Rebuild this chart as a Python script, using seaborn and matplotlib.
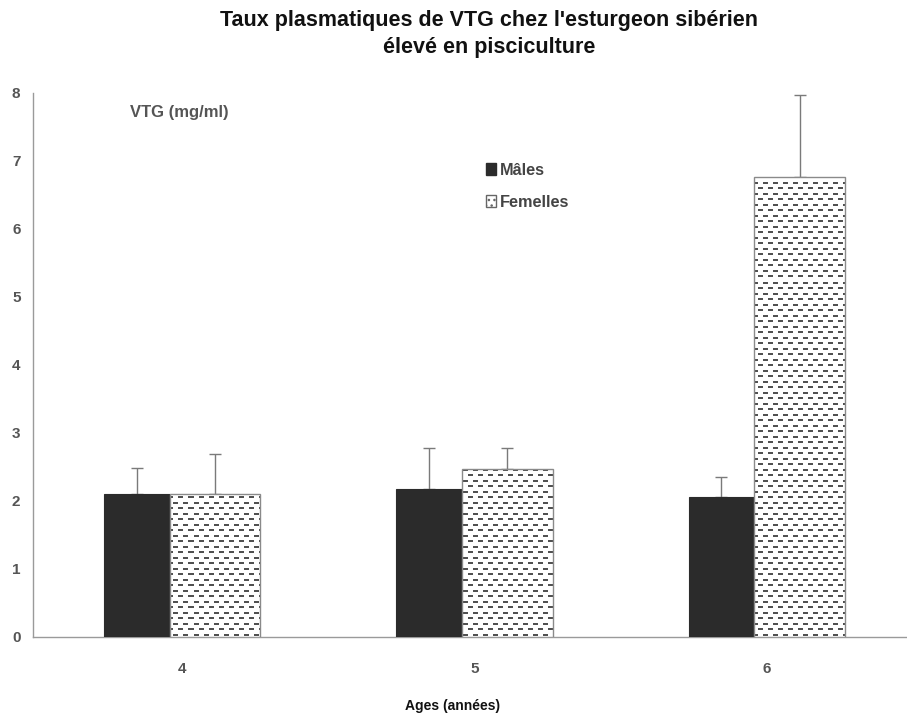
import numpy as np
import pandas as pd
import matplotlib
matplotlib.use("Agg")
import matplotlib.pyplot as plt
from matplotlib.patches import Patch
import seaborn as sns

# Data: plasma VTG (mg/ml) by age and sex, mean and upper error
ages = ["4", "5", "6"]
sexes = ["Mâles", "Femelles"]
males = [2.10, 2.18, 2.06]
males_err = [0.39, 0.60, 0.29]
femelles = [2.10, 2.47, 6.77]
femelles_err = [0.59, 0.31, 1.20]
y_ticks = [0, 1, 2, 3, 4, 5, 6, 7, 8]

title = "Taux plasmatiques de VTG chez l'esturgeon sibérien\nélevé en pisciculture"
x_label = "Ages (années)"
y_label = "VTG (mg/ml)"

df = pd.DataFrame({
    "age": ages * 2,
    "sexe": [sexes[0]] * 3 + [sexes[1]] * 3,
    "vtg": males + femelles,
})

sns.set_theme(style="white")
plt.rcParams["font.family"] = ["Liberation Sans", "DejaVu Sans"]

W, H = 907, 719
fig = plt.figure(figsize=(W / 100, H / 100), dpi=100)
ax = fig.add_axes([33 / W, (H - 637) / H, (W - 33) / W, (637 - 93) / H])

dark = "#2b2b2b"
edge_grey = "#8a8a8a"
group_w = 0.535
male_share = 0.42

sns.barplot(data=df, x="age", y="vtg", hue="sexe", order=ages, hue_order=sexes,
            palette={sexes[0]: dark, sexes[1]: "white"}, width=group_w,
            errorbar=None, legend=False, saturation=1, ax=ax, zorder=3)

male_bars = list(ax.containers[0])
fem_bars = list(ax.containers[1])
for mb, fb in zip(male_bars, fem_bars):
    left = mb.get_x()
    mb.set_width(group_w * male_share)
    mb.set_edgecolor(dark)
    mb.set_linewidth(0.8)
    fb.set_x(left + group_w * male_share)
    fb.set_width(group_w * (1 - male_share))
    fb.set_facecolor("none")
    fb.set_edgecolor(edge_grey)
    fb.set_linewidth(1.0)
    fb.set_zorder(4)

# Upper error bars centred on each bar
for bars, vals, errs in ((male_bars, males, males_err), (fem_bars, femelles, femelles_err)):
    xs = [b.get_x() + b.get_width() / 2 for b in bars]
    ax.errorbar(xs, vals, yerr=[np.zeros(len(errs)), errs], fmt="none",
                ecolor="#7a7a7a", elinewidth=1.0, capsize=4.5, capthick=1.0, zorder=1)

ax.set_autoscale_on(False)
ax.set_xlim(-0.51, 2.48)
ax.set_ylim(0, 8)

# Staggered-dash texture for the female bars
fig.canvas.draw()
bb = ax.get_window_extent()
aw, ah = int(round(bb.width)), int(round(bb.height))
tile = np.ones((11, 10))
tile[2:4, 0:5] = 0.32
tile[7:9, 5:10] = 0.32
tex = np.tile(tile, (ah // 11 + 2, aw // 10 + 2))[:ah, :aw]
for fb in fem_bars:
    im = ax.imshow(tex, cmap="gray", vmin=0, vmax=1, extent=[0, 1, 0, 1],
                   transform=ax.transAxes, interpolation="nearest",
                   aspect="auto", zorder=3.5)
    im.set_clip_path(fb)
ax.set_xlim(-0.51, 2.48)
ax.set_ylim(0, 8)

# Axes styling
for s in ("top", "right"):
    ax.spines[s].set_visible(False)
for s in ("left", "bottom"):
    ax.spines[s].set_color("#9a9a9a")
    ax.spines[s].set_linewidth(1.0)

ax.set_yticks(y_ticks)
ax.set_yticklabels([str(t) for t in y_ticks])
ax.tick_params(axis="y", direction="inout", length=8, width=0.8, color="#9a9a9a",
               pad=5, labelsize=11, labelcolor="#555555")
ax.set_xticks(range(len(ages)))
ax.set_xticklabels(ages)
ax.tick_params(axis="x", length=0, pad=18, labelsize=11, labelcolor="#555555")
ax.set_xticks([0.5, 1.5], minor=True)
ax.tick_params(axis="x", which="minor", direction="inout", length=10, width=0.8,
               color="#9a9a9a")
for lab in ax.get_xticklabels() + ax.get_yticklabels():
    lab.set_fontweight("bold")
ax.set_xlabel("")
ax.set_ylabel("")

fig.text(489 / W, 1 - 34 / H, title, ha="center", va="center", fontsize=15.5,
         fontweight="bold", color="#111111", linespacing=1.38)
fig.text(453 / W, 1 - 706 / H, x_label, ha="center", va="center", fontsize=10,
         fontweight="bold", color="#111111")
fig.text(130 / W, 1 - 113 / H, y_label, ha="left", va="center", fontsize=12,
         fontweight="bold", color="#555555")

handles = [Patch(facecolor=dark, edgecolor=dark),
           Patch(facecolor="white", edgecolor="#666666", hatch="...")]
fig.legend(handles, sexes, loc="upper left", bbox_to_anchor=(471 / W, 1 - 148 / H),
           frameon=False, handlelength=0.65, handleheight=0.75, handletextpad=0.25,
           labelspacing=1.05, prop={"weight": "bold", "size": 11.7},
           labelcolor="#444444")

fig.savefig("out.png", dpi=100)
